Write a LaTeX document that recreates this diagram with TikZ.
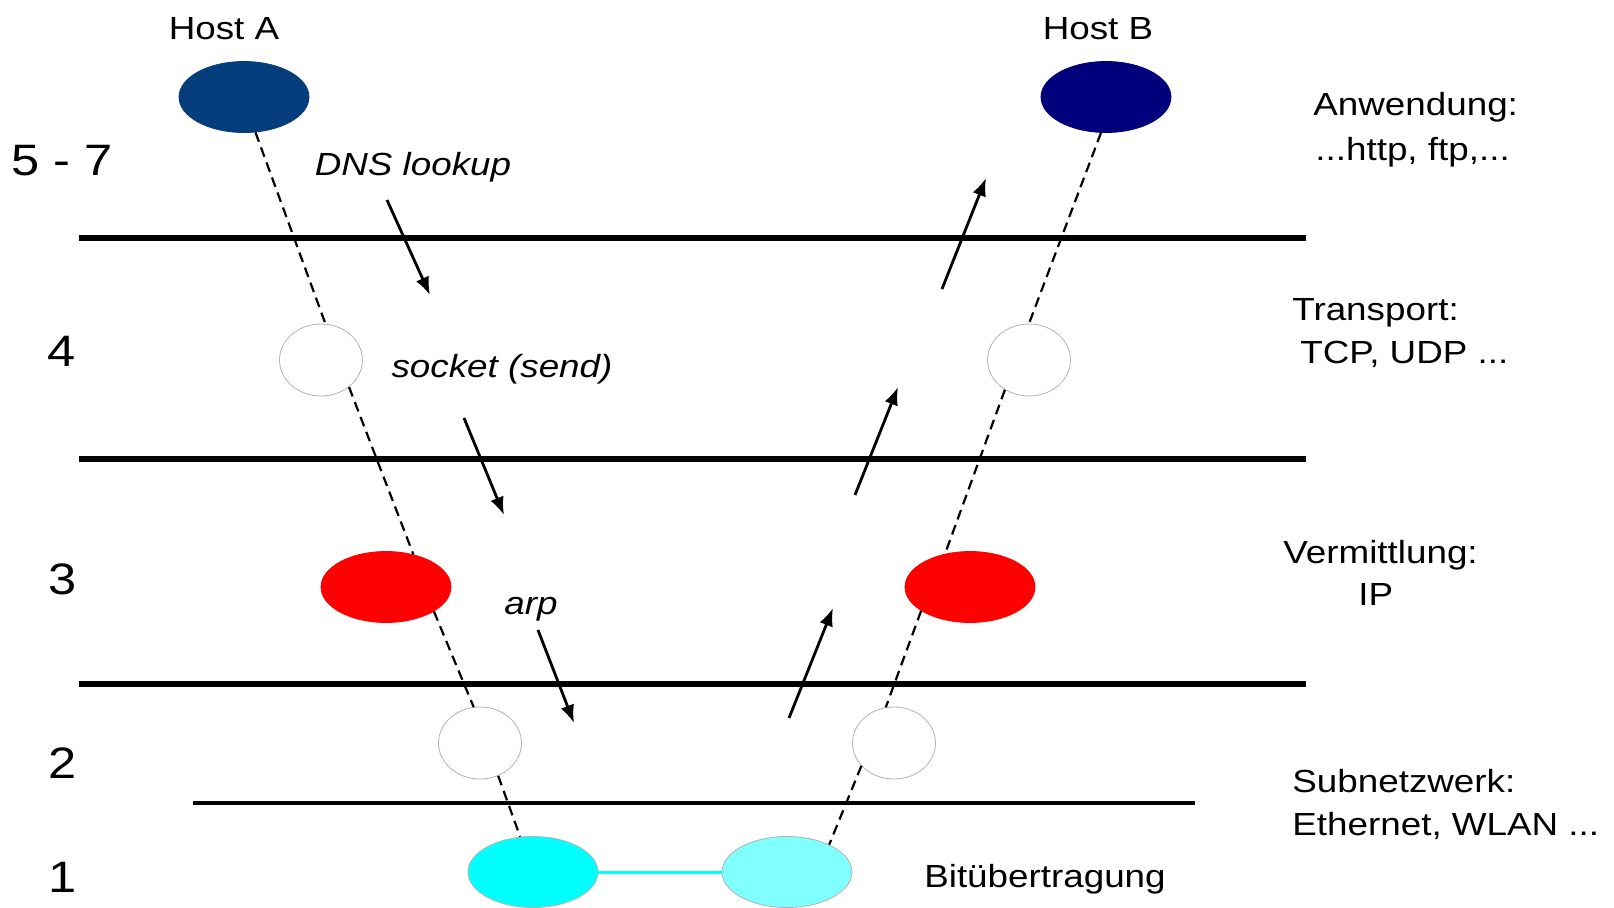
\documentclass[tikz,border=0pt]{standalone}
\usepackage{fontspec}
\setmainfont{Liberation Sans}[FakeStretch=1.15]
\usetikzlibrary{shapes.geometric,arrows.meta}

\definecolor{hostblueA}{RGB}{4,61,124}
\definecolor{hostblueB}{RGB}{0,0,124}
\definecolor{phycyanA}{RGB}{0,255,255}
\definecolor{phycyanB}{RGB}{128,255,255}

\begin{document}
\begin{tikzpicture}[x=0.5pt, y=-0.5pt,
    layer/.style={line width=2.6pt},
    blob/.style={ellipse, inner sep=0pt, minimum width=65pt, minimum height=35.5pt, draw=gray!60, line width=0.4pt},
    hole/.style={ellipse, inner sep=0pt, minimum width=41.5pt, minimum height=36pt, draw=gray!60, line width=0.4pt, fill=white},
    link/.style={dash pattern=on 5pt off 3pt, line width=1.1pt},
    flow/.style={line width=1.4pt, -{Latex[length=9pt,width=7pt]}},
    lbl/.style={anchor=base, inner sep=0pt, font=\fontsize{16}{19}\selectfont},
    num/.style={anchor=base, inner sep=0pt, font=\fontsize{22}{26}\selectfont}]
    \useasboundingbox (0,0) rectangle (1614,907);

    % layer borders
    \draw[layer] (79,238) -- (1306,238);
    \draw[layer] (79,459) -- (1306,459);
    \draw[layer] (79,684) -- (1306,684);
    \draw[layer, line width=2.2pt] (193,803) -- (1195,803);

    % hosts and protocol stacks
    \node[lbl] (hostAlbl) at (224,39) {Host A};
    \node[lbl] (hostBlbl) at (1098,39) {Host B};
    \node[blob, fill=hostblueA, draw=hostblueA] (hostA) at (244,97) {};
    \node[blob, fill=hostblueB, draw=hostblueB] (hostB) at (1106,97) {};
    \node[hole] (sockA) at (321,360) {};
    \node[hole] (sockB) at (1029,360) {};
    \node[blob, fill=red, draw=red] (ipA) at (386,587) {};
    \node[blob, fill=red, draw=red] (ipB) at (970,587) {};
    \node[hole] (macA) at (480,743) {};
    \node[hole] (macB) at (894,743) {};
    \node[blob, fill=phycyanA] (phyA) at (533,872) {};
    \node[blob, fill=phycyanB] (phyB) at (787,872) {};
    \draw[phycyanA, line width=1.5pt] (phyA.east) -- (phyB.west);

    \draw[link] (hostA.-72) -- (sockA.83);
    \draw[link] (sockA.-44) -- (ipA.50);
    \draw[link] (ipA.-27) -- (macA.100);
    \draw[link] (macA.-61) -- (phyA.110);
    \draw[link] (hostB.-98) -- (sockB.90);
    \draw[link] (sockB.-129) -- (ipB.127);
    \draw[link] (ipB.-154) -- (macB.103);
    \draw[link] (macB.-145) -- (phyB.33);

    % layer numbers
    \node[num] (n57) at (62,175) {5 - 7};
    \node[num] (n4) at (62,366) {4};
    \node[num] (n3) at (63,594) {3};
    \node[num] (n2) at (63,778) {2};
    \node[num] (n1) at (63,892) {1};

    % calls on the sending side
    \node[lbl, font=\fontsize{16}{19}\selectfont\itshape] (dns) at (413,175) {DNS lookup};
    \node[lbl, font=\fontsize{16}{19}\selectfont\itshape] (sock) at (502,377) {socket (send)};
    \node[lbl, font=\fontsize{16}{19}\selectfont\itshape] (arp) at (531,614) {arp};
    \coordinate (dnsS) at (387,200);  \coordinate (dnsE) at (430,295);
    \coordinate (sockS) at (464,418); \coordinate (sockE) at (504,515);
    \coordinate (arpS) at (538,630);  \coordinate (arpE) at (574,723);
    \draw[flow] (dnsS) -- (dnsE);
    \draw[flow] (sockS) -- (sockE);
    \draw[flow] (arpS) -- (arpE);

    % way up on the receiving side
    \coordinate (upAS) at (789,718); \coordinate (upAE) at (833,608);
    \coordinate (upBS) at (855,495); \coordinate (upBE) at (898,387);
    \coordinate (upCS) at (942,289); \coordinate (upCE) at (986,178);
    \draw[flow] (upAS) -- (upAE);
    \draw[flow] (upBS) -- (upBE);
    \draw[flow] (upCS) -- (upCE);

    % layer names
    \node[lbl, anchor=base west] (app) at (1313,115) {Anwendung:};
    \node[lbl, anchor=base west] (appex) at (1315,160) {...http, ftp,...};
    \node[lbl, anchor=base west] (tra) at (1292,320) {Transport:};
    \node[lbl, anchor=base west] (traex) at (1300,363) {TCP, UDP ...};
    \node[lbl, anchor=base west] (net) at (1283,563) {Vermittlung:};
    \node[lbl, anchor=base west] (netex) at (1358,605) {IP};
    \node[lbl, anchor=base west] (sub) at (1292,792) {Subnetzwerk:};
    \node[lbl, anchor=base west] (subex) at (1292,835) {Ethernet, WLAN ...};
    \node[lbl] (bit) at (1045,887) {Bitübertragung};
\end{tikzpicture}
\end{document}
